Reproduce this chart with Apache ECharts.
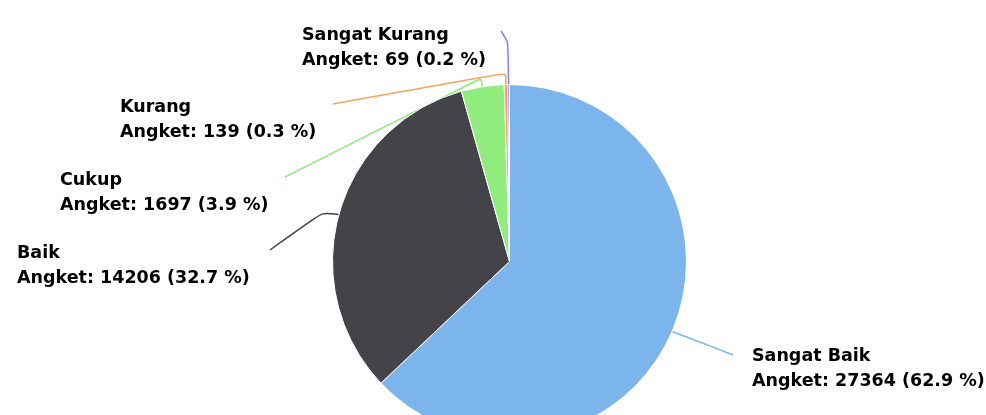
<!DOCTYPE html>
<html style="height: 100%">
<head>
    <meta charset="UTF-8">
    <title>Angket</title>
</head>
<body style="height: 100%; margin: 0; background: #fff">
<div id="container" style="width: 986px; height: 415px"></div>
<script src="https://cdn.jsdelivr.net/npm/echarts@6/dist/echarts.min.js"></script>
<script>
    // data
    var categories = ['Sangat Baik', 'Baik', 'Cukup', 'Kurang', 'Sangat Kurang'];
    var angket = [27364, 14206, 1697, 139, 69];
    var colors = ['#7cb5ec', '#434348', '#90ed7d', '#f7a35c', '#8085e9'];

    // label placement: [labelLeft, labelTop], bend point, end of connector
    var labelPos = [[752, 344], [17, 241], [60, 168], [120, 95], [302, 23]];
    var lineBend = [[705, 344], [322, 213], [481, 78], [506, 73], [508, 42]];
    var lineEnd = [[733, 355], [270, 250], [285, 177], [333, 104], [501, 31]];

    var seriesData = [];
    for (var i = 0; i < categories.length; i++) {
        seriesData.push({
            name: categories[i],
            value: angket[i],
            itemStyle: {color: colors[i]}
        });
    }

    var dom = document.getElementById("container");
    var myChart = echarts.init(dom);
    var option = {
        animation: false,
        series: [
            {
                name: 'Angket',
                type: 'pie',
                center: [509.5, 261.5],
                radius: 177,
                startAngle: 90,
                clockwise: true,
                percentPrecision: 1,
                avoidLabelOverlap: false,
                data: seriesData,
                itemStyle: {
                    borderColor: '#ffffff',
                    borderWidth: 1
                },
                label: {
                    show: true,
                    position: 'outside',
                    formatter: '{b}\nAngket: {c} ({d} %)',
                    fontFamily: 'DejaVu Sans',
                    fontWeight: 'bold',
                    fontSize: 17.5,
                    lineHeight: 25,
                    color: '#000000',
                    textBorderColor: '#ffffff',
                    textBorderWidth: 1
                },
                labelLine: {
                    show: true,
                    smooth: 0.2,
                    lineStyle: {width: 1.5}
                },
                labelLayout: function (params) {
                    var k = params.dataIndex;
                    var p0 = params.labelLinePoints ? params.labelLinePoints[0] : lineBend[k];
                    return {
                        x: labelPos[k][0],
                        y: labelPos[k][1],
                        align: 'left',
                        verticalAlign: 'top',
                        labelLinePoints: [p0, lineBend[k], lineEnd[k]]
                    };
                }
            }
        ]
    };
    myChart.setOption(option);
</script>
</body>
</html>
